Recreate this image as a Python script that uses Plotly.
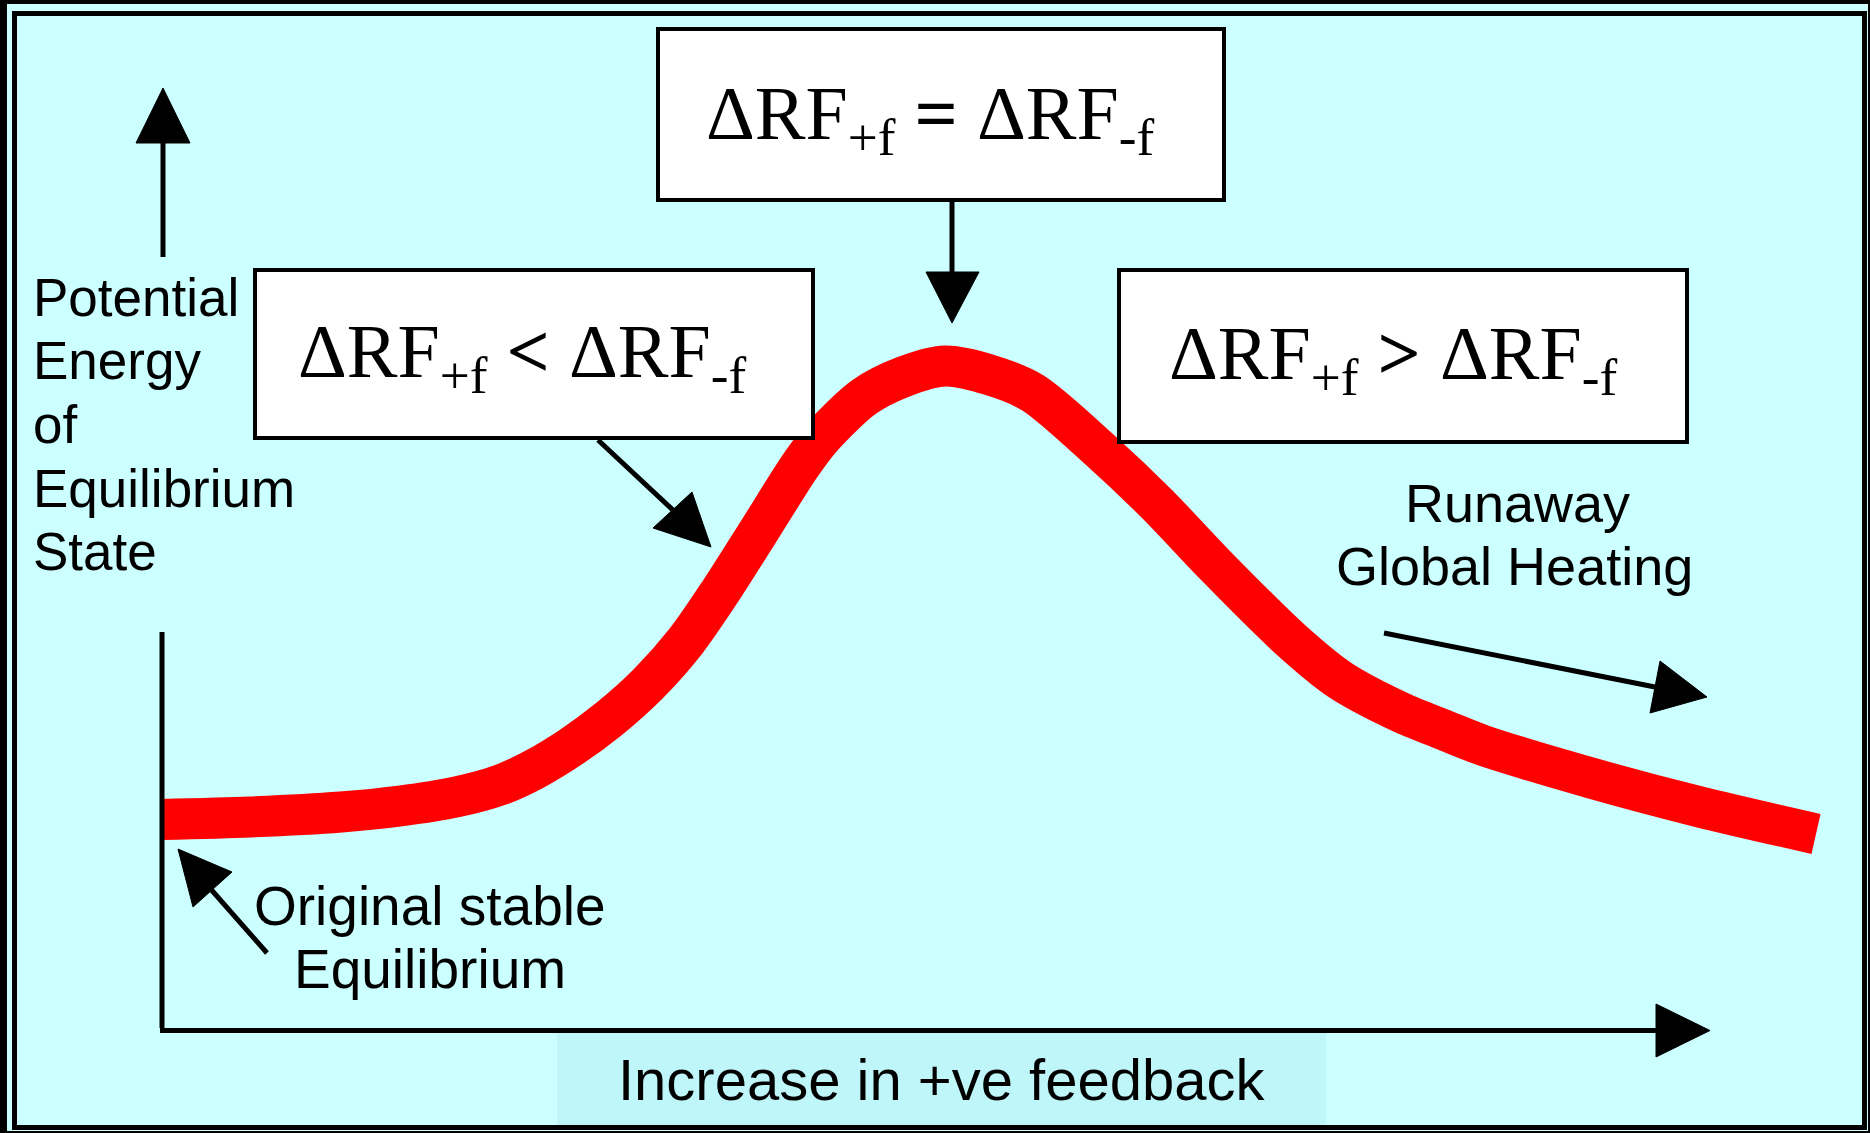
import plotly.graph_objects as go

# ---- data (diagram coordinates, x = increase in +ve feedback, y = potential energy, screen units) ----
curve_x = [161, 250, 341, 400, 456, 500, 533, 571, 609, 648, 686, 720, 757, 800, 822, 864, 903, 945,
           990, 1033, 1100, 1157, 1215, 1291, 1340, 1400, 1444, 1482, 1591, 1700, 1816]
curve_y = [819.5, 817, 812, 806, 797, 785, 770, 747, 719, 684, 641, 592, 534, 466, 437, 397, 377, 366,
           375, 393, 450, 504, 565, 640, 680, 712, 730, 745, 778, 807, 834]

box_texts = ["ΔRF<sub>+f</sub> <b>=</b> ΔRF<sub>-f</sub>",
             "ΔRF<sub>+f</sub> <b>&lt;</b> ΔRF<sub>-f</sub>",
             "ΔRF<sub>+f</sub> <b>&gt;</b> ΔRF<sub>-f</sub>"]
ylabel_lines = ["Potential", "Energy", "of", "Equilibrium", "State"]
runaway_lines = ["Runaway", "Global Heating"]
origin_lines = ["Original stable", "Equilibrium"]
xlabel = "Increase in +ve feedback"

BG = "#CCFFFF"
HL = "#BFF6FA"

fig = go.Figure()
fig.add_trace(go.Scatter(x=curve_x, y=curve_y, mode="lines",
                         line=dict(color="#FF0000", width=41, shape="spline", smoothing=0.8),
                         hoverinfo="skip", showlegend=False))

shapes = []
# background + frame
shapes.append(dict(type="rect", x0=7, y0=4, x1=1868, y1=1131, fillcolor=BG,
                   line=dict(width=0), layer="below"))
shapes.append(dict(type="rect", x0=14.5, y0=13.5, x1=1864.5, y1=1127.5,
                   line=dict(color="black", width=5), layer="below"))
# highlight behind x label
shapes.append(dict(type="rect", x0=557, y0=1033, x1=1326, y1=1125, fillcolor=HL,
                   line=dict(width=0), layer="below"))

# boxes
for (x0, y0, x1, y1) in [(658, 29, 1224, 200), (255, 270, 813, 438), (1119, 270, 1687, 442)]:
    shapes.append(dict(type="rect", x0=x0, y0=y0, x1=x1, y1=y1, fillcolor="white",
                       line=dict(color="black", width=4), layer="above"))


def seg(x0, y0, x1, y1, w=5):
    shapes.append(dict(type="line", x0=x0, y0=y0, x1=x1, y1=y1,
                       line=dict(color="black", width=w), layer="above"))


def tri(p):
    path = "M {} {} L {} {} L {} {} Z".format(p[0][0], p[0][1], p[1][0], p[1][1], p[2][0], p[2][1])
    shapes.append(dict(type="path", path=path, fillcolor="black",
                       line=dict(color="black", width=1), layer="above"))


# y axis arrow (upper)
seg(163, 140, 163, 257)
tri([(163, 88), (136, 143), (190, 143)])
# y axis line (lower)
seg(162, 632, 162, 1028)
# x axis arrow
seg(160, 1030.5, 1660, 1030.5)
tri([(1656, 1004), (1656, 1057), (1710, 1030.5)])
# arrow from top box
seg(952, 200, 952, 275)
tri([(926, 272), (979, 272), (952, 323)])
# arrow from left box
seg(598, 440, 675, 512)
tri([(711, 547), (653, 528), (692, 492)])
# runaway arrow
seg(1384, 633, 1660, 688)
tri([(1707, 697), (1660, 661), (1650, 713)])
# original stable arrow
seg(267, 953, 208, 886)
tri([(178, 849), (193, 907), (232, 872)])

ann = []
SERIF = "Liberation Serif"
SANS = "Liberation Sans"
for txt, cx, cy in zip(box_texts, [930, 522, 1393], [119, 357, 359]):
    ann.append(dict(x=cx, y=cy, text=txt, showarrow=False, xref="x", yref="y",
                    xanchor="center", yanchor="middle",
                    font=dict(family=SERIF, size=76, color="black")))

for line, base in zip(ylabel_lines, [316, 379, 443, 507, 570]):
    ann.append(dict(x=31, y=base - 0.3465 * 53, text=line, showarrow=False, xref="x", yref="y",
                    xanchor="left", yanchor="middle",
                    font=dict(family=SANS, size=53, color="black")))

for line, cx, base in zip(runaway_lines, [1517, 1514], [522, 585]):
    ann.append(dict(x=cx, y=base - 0.3465 * 54, text=line, showarrow=False, xref="x", yref="y",
                    xanchor="center", yanchor="middle",
                    font=dict(family=SANS, size=54, color="black")))

for line, cx, base in zip(origin_lines, [430, 430], [925, 988]):
    ann.append(dict(x=cx, y=base - 0.3465 * 55, text=line, showarrow=False, xref="x", yref="y",
                    xanchor="center", yanchor="middle",
                    font=dict(family=SANS, size=55, color="black")))

ann.append(dict(x=941, y=1100 - 0.3465 * 58, text=xlabel, showarrow=False, xref="x", yref="y",
                xanchor="center", yanchor="middle",
                font=dict(family=SANS, size=58, color="black")))

fig.update_layout(
    width=1870, height=1133, autosize=False,
    margin=dict(l=0, r=0, t=0, b=0, pad=0),
    paper_bgcolor="black", plot_bgcolor="rgba(0,0,0,0)",
    xaxis=dict(range=[0, 1870], visible=False, fixedrange=True),
    yaxis=dict(range=[1133, 0], visible=False, fixedrange=True),
    shapes=shapes, annotations=ann, showlegend=False,
)

fig.write_html("out.html", config={"displayModeBar": False},
               post_script="document.body.style.margin='0px';document.body.style.overflow='hidden';")
